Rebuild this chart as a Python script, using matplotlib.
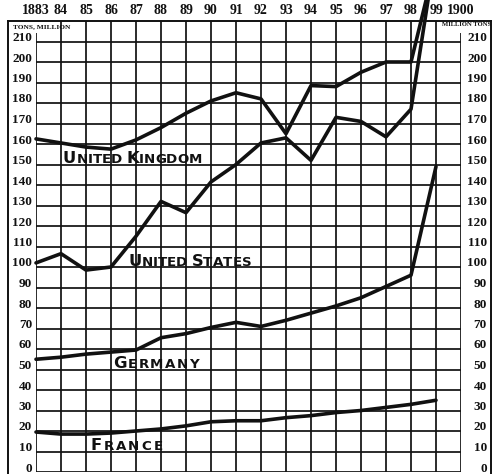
import matplotlib
matplotlib.use("Agg")
import matplotlib.pyplot as plt
from matplotlib.lines import Line2D

# Coal output, million tons, 1883-1899
years = list(range(1883, 1900))
united_kingdom = [162.5, 160.5, 158.5, 157.5, 162, 168, 175, 181, 185, 182,
                  165, 188.5, 188, 195, 200, 200, 250]
united_states = [102, 106.5, 98.5, 100, 115, 132, 126.5, 141.5, 150, 160.5,
                 163, 152, 173, 171, 163.5, 177, 255]
germany = [55, 56, 57.5, 58.5, 59.5, 65.5, 67.5, 70.5, 73, 71,
           74, 77.5, 81, 85, 90.5, 96, 149]
france = [19.5, 18.5, 18.5, 19, 20, 21, 22.5, 24.5, 25, 25,
          26.5, 27.5, 29, 30, 31.5, 33, 35]

year_labels = ["1883", "84", "85", "86", "87", "88", "89", "90", "91", "92",
               "93", "94", "95", "96", "97", "98", "99", "1900"]
scale_values = list(range(0, 220, 10))

W, H = 495, 474
fig = plt.figure(figsize=(W / 100, H / 100), dpi=100)
fig.patch.set_facecolor("white")

# plotting area in pixels
X0, X1 = 36, 461
Y_TOP, Y_BOT = 21, 472
ax = fig.add_axes([X0 / W, (H - Y_BOT) / H, (X1 - X0) / W, (Y_BOT - Y_TOP) / H])
ax.set_xlim(1883, 1900)
ax.set_ylim(0, 220)
ax.axis("off")

INK = "#111111"
GRID_LW = 1.25

# ruled grid
for v in scale_values:
    ax.plot([1883, 1900], [v, v], color=INK, lw=GRID_LW, solid_capstyle="butt")
for yr in range(1883, 1901):
    top = 214 if yr in (1883, 1900) else 220
    ax.plot([yr, yr], [0, top], color=INK, lw=GRID_LW, solid_capstyle="butt")

# outer frame
def fig_line(xs, ys, lw=1.4):
    fig.add_artist(Line2D([x / W for x in xs], [1 - y / H for y in ys],
                          transform=fig.transFigure, color=INK, lw=lw))

fig_line([8, 491], [20.5, 20.5])
fig_line([8, 8], [20.5, 474])
fig_line([491, 491], [20.5, 474])

# series
for series in (united_kingdom, united_states, germany, france):
    ax.plot(years, series, color=INK, lw=2.6, solid_joinstyle="round",
            solid_capstyle="round", clip_on=False, zorder=5)

# year labels along the top
serif = "Liberation Serif"
for yr, lab in zip(range(1883, 1901), year_labels):
    px = X0 + (yr - 1883) * (X1 - X0) / 17
    fig.text(px / W, 1 - 11 / H, lab, ha="center", va="center",
             fontsize=10, fontweight="bold", family=serif, color=INK)

# scale figures on both sides
for v in scale_values:
    py = Y_BOT - v * (Y_BOT - Y_TOP) / 220
    fy = 1 - (py - 0.5) / H
    fig.text(32 / W, fy, str(v), ha="right", va="baseline",
             fontsize=9.5, fontweight="bold", family=serif, color=INK)
    fig.text(487 / W, fy, str(v), ha="right", va="baseline",
             fontsize=9.5, fontweight="bold", family=serif, color=INK)

fig.text(13 / W, 1 - 27 / H, "TONS, MILLION", ha="left", va="center",
         fontsize=5.3, fontweight="bold", family=serif, color=INK)
fig.text(442 / W, 1 - 25 / H, "MILLION TONS", ha="left", va="center",
         fontsize=4.8, fontweight="bold", family=serif, color=INK)


# small-capital country names, built letter by letter
def caps_label(x, y, label, big=11.8, small=9.6, track=0.5):
    prev = None
    extra = 0.0
    for i, ch in enumerate(label):
        if ch == " ":
            extra += small * 0.3
            continue
        first = i == 0 or label[i - 1] == " "
        size = big if first else small
        kw = dict(fontsize=size, fontweight="bold", family="DejaVu Sans",
                  color=INK, zorder=6)
        if prev is None:
            prev = ax.text(x, y, ch, ha="left", va="baseline", **kw)
        else:
            prev = ax.annotate(ch, xy=(1, 0), xycoords=prev,
                               xytext=(track + extra, 0),
                               textcoords="offset points",
                               ha="left", va="bottom", **kw)
        extra = 0.0


def px_to_year(px):
    return 1883 + (px - X0) * 17 / (X1 - X0)


caps_label(px_to_year(63), 150.6, "UNITED KINGDOM", track=0.0)
caps_label(px_to_year(128), 100.6, "UNITED STATES", track=0.05)
caps_label(px_to_year(113), 50.6, "GERMANY", track=1.0)
caps_label(px_to_year(90), 10.6, "FRANCE", track=1.5)

fig.savefig("out.png", dpi=100, facecolor="white")
